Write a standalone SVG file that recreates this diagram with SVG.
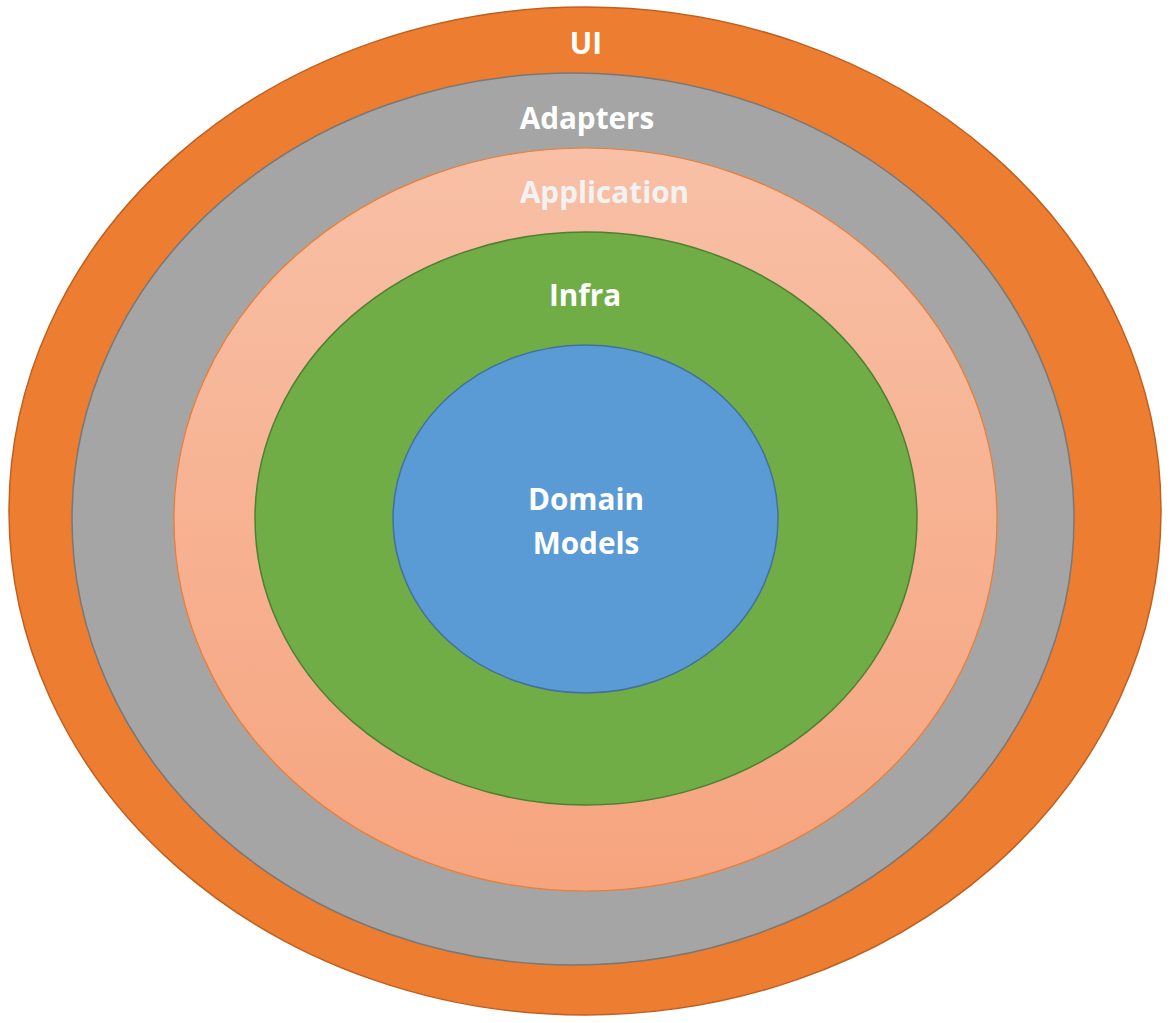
<svg xmlns="http://www.w3.org/2000/svg" width="1172" height="1023" viewBox="0 0 1172 1023">
<defs>
<linearGradient id="appGrad" x1="0" y1="0" x2="0" y2="1">
<stop offset="0" stop-color="#f8c0a6"/>
<stop offset="1" stop-color="#f6a47e"/>
</linearGradient>
<style>
.lbl{font-family:"Open Sans","Liberation Sans",sans-serif;font-weight:bold;font-size:29.7px;fill:#ffffff;text-anchor:middle}
</style>
</defs>
<rect width="1172" height="1023" fill="#ffffff"/>
<g id="ui">
<ellipse cx="585" cy="511" rx="576" ry="504" fill="#ed7d31" stroke="#c0601f" stroke-width="1.5"/>
<text class="lbl" x="586" y="54">UI</text>
</g>
<g id="adapters">
<ellipse cx="573" cy="519" rx="501" ry="446" fill="#a5a5a5" stroke="#787878" stroke-width="1.5"/>
<text class="lbl" x="587" y="129">Adapters</text>
</g>
<g id="application">
<ellipse cx="585.5" cy="519.5" rx="411.5" ry="371.5" fill="url(#appGrad)" stroke="#ed7d31" stroke-width="1.2"/>
<text class="lbl" x="604.5" y="203" style="fill:#f2f2f2">Application</text>
</g>
<g id="infra">
<ellipse cx="586" cy="518.5" rx="331" ry="286.5" fill="#70ad47" stroke="#4f7f30" stroke-width="1.5"/>
<text class="lbl" x="585" y="306">Infra</text>
</g>
<g id="domain">
<ellipse cx="585.5" cy="519" rx="192.5" ry="174" fill="#5b9bd5" stroke="#41719c" stroke-width="1.5"/>
<text class="lbl" x="586" y="510">Domain</text>
<text class="lbl" x="586" y="554">Models</text>
</g>
<g id="connectors"></g>
</svg>
